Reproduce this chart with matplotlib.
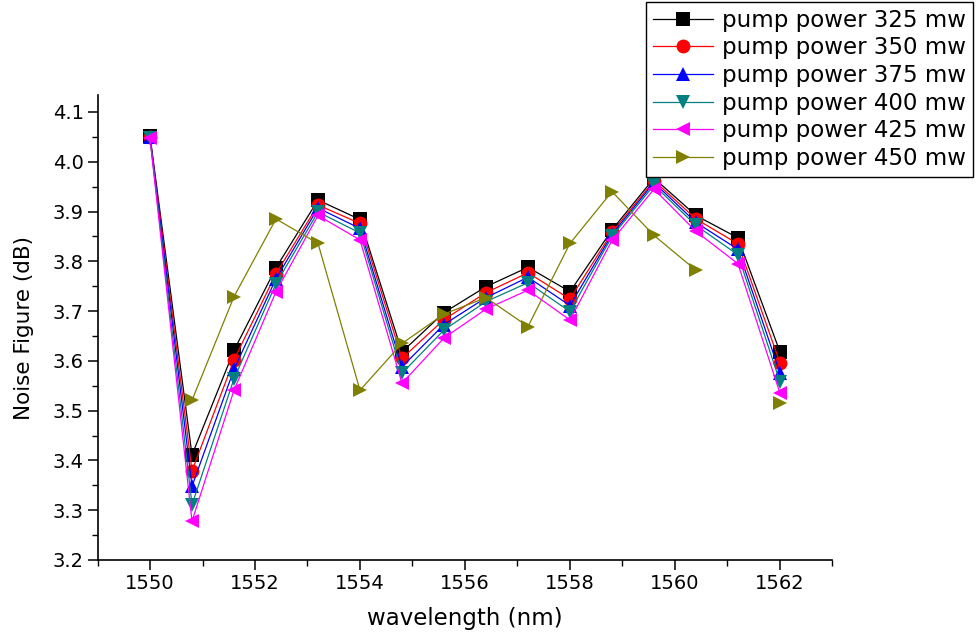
#!/usr/bin/env python3
"""Noise figure versus wavelength for several pump powers."""

import matplotlib

matplotlib.use("Agg")

import matplotlib.pyplot as plt
import numpy as np
from matplotlib.ticker import FormatStrFormatter, MultipleLocator

nan = np.nan

wavelength = [1550.0, 1550.8, 1551.6, 1552.4, 1553.2, 1554.0, 1554.8, 1555.6,
              1556.4, 1557.2, 1558.0, 1558.8, 1559.6, 1560.4, 1561.2, 1562.0]

nf_325 = [4.052, 3.411, 3.621, 3.787, 3.923, 3.884, 3.618, 3.697,
          3.749, 3.788, 3.739, 3.863, 3.967, 3.892, 3.847, 3.618]
nf_350 = [4.050, 3.379, 3.602, 3.775, 3.913, 3.876, 3.605, 3.683,
          3.737, 3.777, 3.724, 3.858, 3.962, 3.885, 3.835, 3.596]
nf_375 = [4.049, 3.348, 3.583, 3.765, 3.907, 3.866, 3.588, 3.673,
          3.727, 3.768, 3.711, 3.854, 3.958, 3.878, 3.824, 3.576]
nf_400 = [4.048, 3.311, 3.564, 3.755, 3.899, 3.857, 3.575, 3.662,
          3.719, 3.757, 3.699, 3.850, 3.953, 3.872, 3.813, 3.558]
nf_425 = [4.047, 3.278, 3.541, 3.739, 3.892, 3.843, 3.555, 3.646,
          3.704, 3.742, 3.682, 3.842, 3.945, 3.860, 3.795, 3.535]
# 450 mW run has no reading at 1550 and 1561.2 nm
nf_450 = [nan, 3.521, 3.729, 3.885, 3.836, 3.541, 3.635, 3.694,
          3.727, 3.669, 3.836, 3.940, 3.852, 3.782, nan, 3.516]

labels = ["pump power 325 mw", "pump power 350 mw", "pump power 375 mw",
          "pump power 400 mw", "pump power 425 mw", "pump power 450 mw"]


def main() -> None:
    plt.rcParams["font.family"] = ["DejaVu Sans"]

    fig = plt.figure(figsize=(9.78, 6.36), dpi=100)
    ax = fig.add_axes([0.0997, 0.1195, 0.7515, 0.7311])

    series = [nf_325, nf_350, nf_375, nf_400, nf_425, nf_450]
    colors = ["#000000", "#ff0000", "#0000ff", "#008080", "#ff00ff", "#808000"]
    markers = ["s", "o", "^", "v", "<", ">"]

    for values, color, marker, label in zip(series, colors, markers, labels):
        ax.plot(wavelength, values, color=color, marker=marker, markersize=10,
                markeredgewidth=0, linewidth=0.9, label=label)

    ax.set_xlim(1549, 1563)
    ax.set_ylim(3.2, 4.134)
    ax.xaxis.set_major_locator(MultipleLocator(2))
    ax.xaxis.set_minor_locator(MultipleLocator(1))
    ax.yaxis.set_major_locator(MultipleLocator(0.1))
    ax.yaxis.set_minor_locator(MultipleLocator(0.05))
    ax.xaxis.set_major_formatter(FormatStrFormatter("%d"))
    ax.yaxis.set_major_formatter(FormatStrFormatter("%.1f"))

    for side in ("top", "right"):
        ax.spines[side].set_visible(False)
    for side in ("left", "bottom"):
        ax.spines[side].set_linewidth(1.2)

    ax.tick_params(which="major", direction="out", length=7, width=1.1,
                   labelsize=14, pad=3)
    ax.tick_params(which="minor", direction="out", length=4, width=1.0)

    ax.set_xlabel("wavelength (nm)", fontsize=16.5, labelpad=10)
    ax.set_ylabel("Noise Figure (dB)", fontsize=15.5, labelpad=13)

    leg = fig.legend(loc="upper right", bbox_to_anchor=(973 / 978, 1 - 2 / 636),
                     bbox_transform=fig.transFigure, fontsize=16.5, numpoints=1,
                     handlelength=2.6, handletextpad=0.4, labelspacing=0.2,
                     borderpad=0.3, borderaxespad=0, fancybox=False,
                     framealpha=1, edgecolor="black")
    leg.get_frame().set_linewidth(1.0)

    fig.savefig("out.png", dpi=100)
    plt.close(fig)


if __name__ == "__main__":
    main()
